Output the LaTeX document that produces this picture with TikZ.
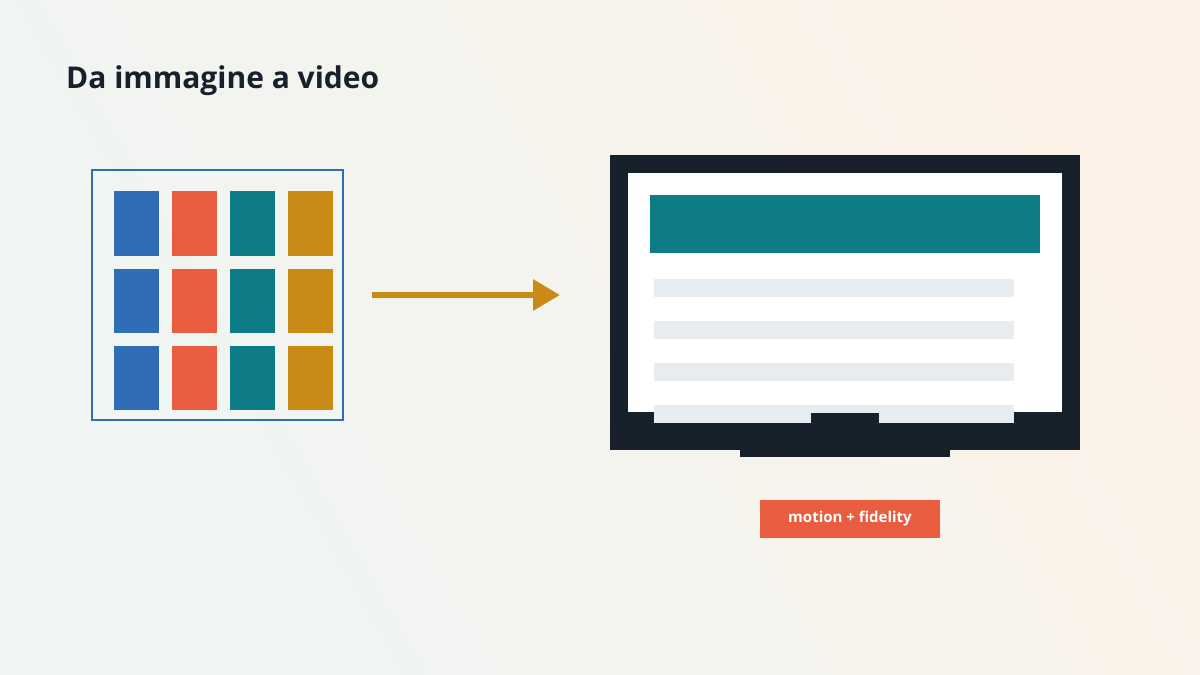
\documentclass[tikz,border=0pt]{standalone}
\usepackage{fontspec}
\setmainfont{Open Sans}
\usetikzlibrary{arrows.meta,positioning}
\definecolor{tileblue}{HTML}{2F6DB5}
\definecolor{tilered}{HTML}{E85D3F}
\definecolor{tileteal}{HTML}{0E7C86}
\definecolor{tileochre}{HTML}{C98A16}
\definecolor{bezel}{HTML}{17212B}
\definecolor{lineg}{HTML}{E6ECF0}
\definecolor{bgA}{HTML}{EEF5F3}
\definecolor{bgB}{HTML}{FCF2E8}
\tikzset{
  tile/.style={fill=#1,draw=none},
  bar/.style={fill=lineg,draw=none}
}
\begin{document}
\begin{tikzpicture}[x=1pt,y=-1pt]
  \shade[left color=bgA,right color=bgB,shading angle=120] (0,0) rectangle (1200,675);
  \useasboundingbox (0,0) rectangle (1200,675);
  \node[anchor=base west,inner sep=0,font=\bfseries\fontsize{30}{36}\selectfont,text=bezel] (title) at (66,88) {Da immagine a video};

  % image grid
  \draw[tileblue,line width=2.5pt] (92,170) rectangle (343,420);
  \foreach \c/\x in {tileblue/114,tilered/172,tileteal/230,tileochre/288}{
    \foreach \y/\h in {191/65,269/64,346/64}
      \fill[tile=\c] (\x,\y) rectangle ++(45,\h);
  }

  % arrow
  \coordinate (from) at (372,295);
  \coordinate (to) at (560,295);
  \draw[tileochre,line width=6pt,-{Triangle[length=27pt,width=30pt]}] (from) -- (to);

  % monitor
  \fill[bezel] (610,155) rectangle (1080,450);
  \fill[bezel] (740,450) rectangle (950,457);
  \fill[white] (628,173) rectangle (1062,412);
  \fill[tileteal] (650,195) rectangle (1040,253);
  \foreach \y in {279,321,363,405}
    \fill[bar] (654,\y) rectangle (1014,\y+18);
  \fill[bezel] (811,413) rectangle (879,423);

  \node[fill=tilered,text=white,font=\bfseries\fontsize{15}{18}\selectfont,
        minimum width=180pt,minimum height=38pt,inner sep=0] (tag) at (850,519) {motion + fidelity};
\end{tikzpicture}
\end{document}
